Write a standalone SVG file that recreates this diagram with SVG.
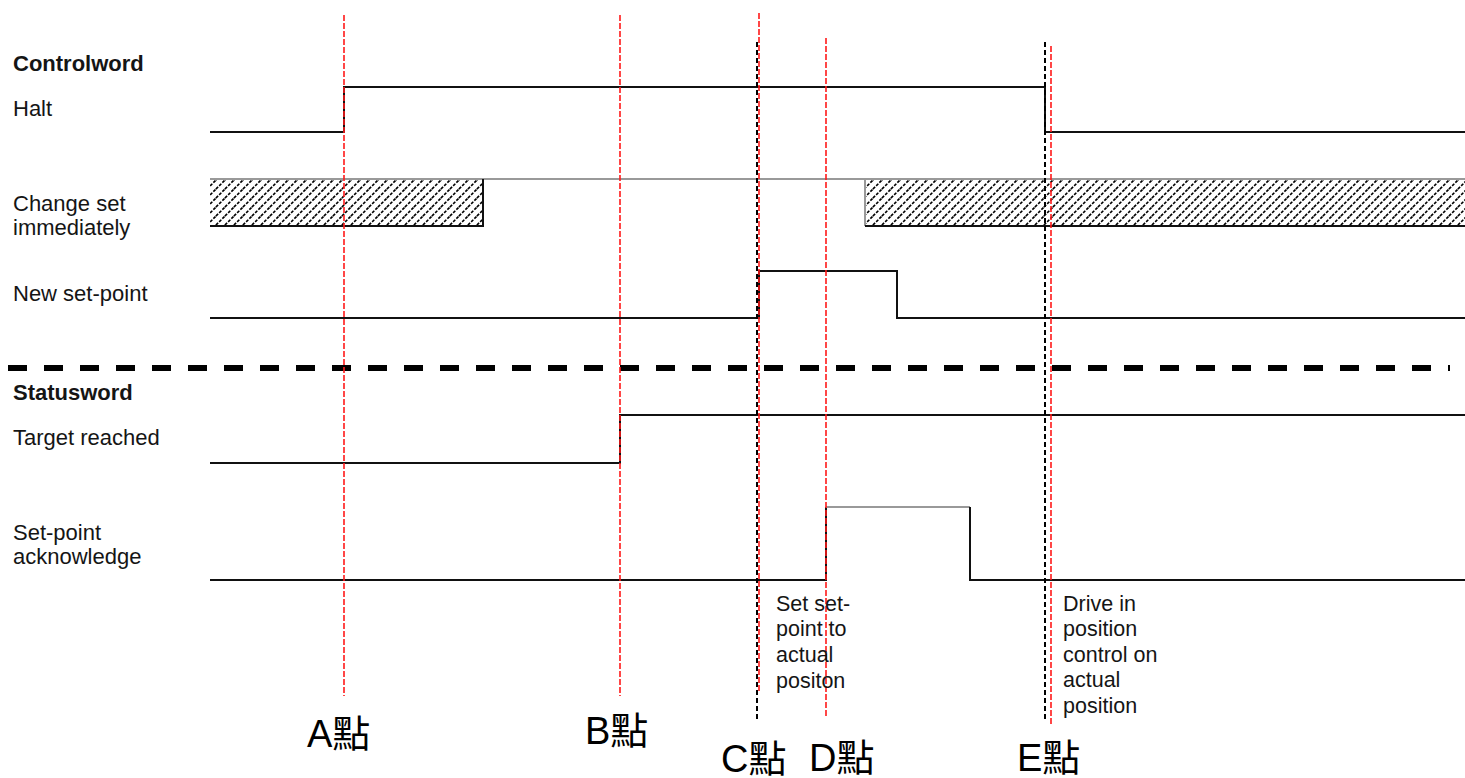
<svg xmlns="http://www.w3.org/2000/svg" width="1465" height="778" viewBox="0 0 1465 778">
<defs>
<pattern id="hatch" patternUnits="userSpaceOnUse" width="9" height="9">
<path d="M-2,2 L2,-2 M0,9 L9,0 M7,11 L11,7" stroke="#000" stroke-width="1.6" stroke-dasharray="3 1.5"/>
</pattern>
<style>
.lbl{font-family:"Liberation Sans",Arial,sans-serif;font-size:22px;fill:#151515}
.b{font-weight:bold}
.ann{font-family:"Liberation Sans",Arial,sans-serif;font-size:21.5px;fill:#151515}
.pt{font-family:"Liberation Sans","Noto Sans CJK TC",sans-serif;font-size:38px;fill:#000}
.sig{fill:none;stroke:#111;stroke-width:2}
.grey{fill:none;stroke:#999;stroke-width:2}
.red{stroke:#ff1a1a;stroke-width:1.6;stroke-dasharray:6 2;fill:none}
.blk{stroke:#000;stroke-width:2;stroke-dasharray:5 3;fill:none}
</style>
</defs>
<rect width="1465" height="778" fill="#fff"/>

<g id="labels">
<text class="lbl b" x="13" y="71">Controlword</text>
<text class="lbl" x="13" y="116">Halt</text>
<text class="lbl" x="13" y="211">Change set</text>
<text class="lbl" x="13" y="235">immediately</text>
<text class="lbl" x="13" y="301">New set-point</text>
<text class="lbl b" x="13" y="400">Statusword</text>
<text class="lbl" x="13" y="445">Target reached</text>
<text class="lbl" x="13" y="540">Set-point</text>
<text class="lbl" x="13" y="564">acknowledge</text>
</g>

<g id="sig-halt">
<polyline class="sig" points="210,132 344,132 344,87 1045,87 1045,132 1465,132"/>
</g>

<g id="sig-change-set">
<rect x="210" y="179" width="273" height="47" fill="url(#hatch)"/>
<rect x="865" y="179" width="600" height="47" fill="url(#hatch)"/>
<line class="grey" x1="210" y1="179" x2="1465" y2="179"/>
<polyline class="sig" points="210,226 483,226 483,179"/>
<polyline class="grey" points="865,179 865,226"/>
<line class="sig" x1="865" y1="226" x2="1465" y2="226"/>
</g>

<g id="sig-new-setpoint">
<polyline class="sig" points="210,318 759,318 759,271 897,271 897,318 1465,318"/>
</g>

<g id="separator">
<line x1="8" y1="368" x2="1450" y2="368" stroke="#000" stroke-width="6" stroke-dasharray="19 17"/>
</g>

<g id="sig-target-reached">
<polyline class="sig" points="210,463 620,463 620,415 1465,415"/>
</g>

<g id="sig-setpoint-ack">
<polyline class="sig" points="210,580 826,580 826,507"/>
<line class="grey" x1="826" y1="507" x2="970" y2="507"/>
<polyline class="sig" points="970,507 970,580 1465,580"/>
</g>

<g id="markers">
<line class="red" x1="344" y1="15" x2="344" y2="696"/>
<line class="red" x1="620" y1="15" x2="620" y2="696"/>
<line class="blk" x1="757" y1="42" x2="757" y2="720"/>
<line class="red" x1="759" y1="13" x2="759" y2="692"/>
<line class="red" x1="826" y1="38" x2="826" y2="718"/>
<line class="blk" x1="1045" y1="42" x2="1045" y2="721"/>
<line class="red" x1="1051" y1="46" x2="1051" y2="726"/>
</g>

<g id="annot-c">
<text class="ann" x="776" y="611">Set set-</text>
<text class="ann" x="776" y="636">point to</text>
<text class="ann" x="776" y="662">actual</text>
<text class="ann" x="776" y="688">positon</text>
</g>
<g id="annot-e">
<text class="ann" x="1063" y="611">Drive in</text>
<text class="ann" x="1063" y="636">position</text>
<text class="ann" x="1063" y="662">control on</text>
<text class="ann" x="1063" y="687">actual</text>
<text class="ann" x="1063" y="713">position</text>
</g>

<g id="points">
<text class="pt" x="307" y="747">A點</text>
<text class="pt" x="585" y="744">B點</text>
<text class="pt" x="721" y="772">C點</text>
<text class="pt" x="809" y="771">D點</text>
<text class="pt" x="1017" y="771">E點</text>
</g>
</svg>
